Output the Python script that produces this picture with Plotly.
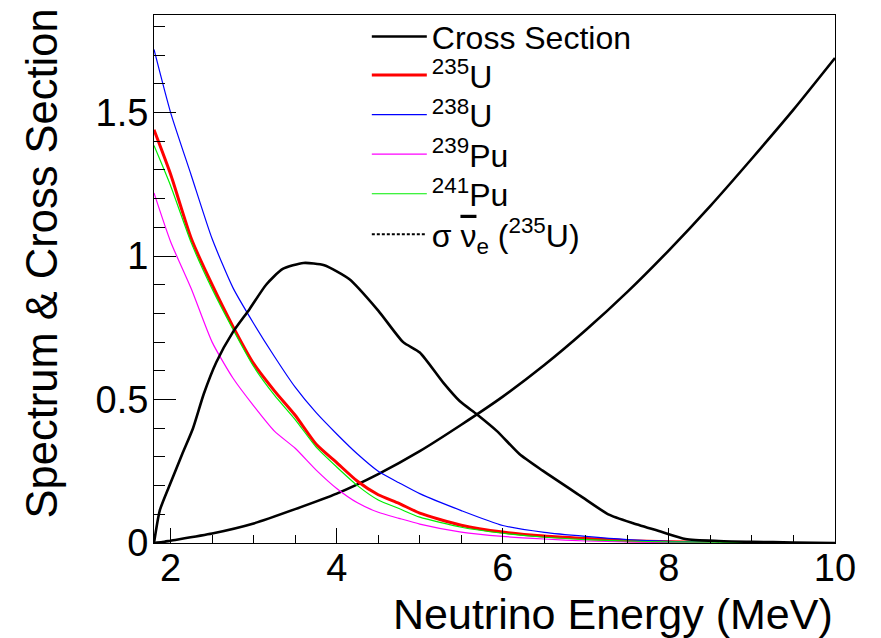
import plotly.graph_objects as go

# ---- data ----
xs_energy = [1.8, 1.9, 2.0, 2.5, 3.0, 3.5, 4.0, 4.5, 5.0, 5.5, 6.0, 6.5, 7.0, 7.5, 8.0, 8.5, 9.0, 9.5, 10.0]
xs_value = [0.0, 0.003, 0.008, 0.033, 0.068, 0.118, 0.172, 0.240, 0.320, 0.412, 0.510, 0.620, 0.742, 0.875, 1.02, 1.175, 1.34, 1.51, 1.69]

sp_energy = [1.8, 2.0, 2.25, 2.5, 2.75, 3.0, 3.25, 3.5, 3.75, 4.0, 4.25, 4.5, 4.75, 5.0, 5.5, 6.0, 6.5, 7.0, 7.5, 8.0, 8.6]
u235 = [1.44, 1.285, 1.06, 0.90, 0.755, 0.625, 0.53, 0.445, 0.345, 0.28, 0.215, 0.168, 0.138, 0.104, 0.062, 0.038, 0.024, 0.016, 0.008, 0.004, 0.002]
u238 = [1.72, 1.50, 1.28, 1.06, 0.89, 0.765, 0.65, 0.543, 0.455, 0.38, 0.31, 0.25, 0.21, 0.172, 0.113, 0.061, 0.037, 0.023, 0.012, 0.006, 0.003]
pu239 = [1.22, 1.05, 0.885, 0.70, 0.575, 0.478, 0.39, 0.33, 0.255, 0.19, 0.14, 0.107, 0.086, 0.066, 0.038, 0.023, 0.014, 0.007, 0.004, 0.002, 0.001]
pu241_energy = [1.8, 2.0, 2.25, 2.5, 2.75, 3.0, 3.25, 3.5, 3.75, 4.0, 4.25, 4.5, 4.75, 5.0, 5.5, 6.0, 6.5, 7.0, 7.5, 8.0, 9.0, 9.5]
pu241 = [1.385, 1.245, 1.045, 0.885, 0.745, 0.615, 0.515, 0.43, 0.335, 0.265, 0.20, 0.15, 0.12, 0.09, 0.055, 0.034, 0.02, 0.012, 0.007, 0.004, 0.002, 0.001]

obs_energy = [1.8, 1.87, 2.0, 2.14, 2.27, 2.4, 2.55, 2.75, 2.95, 3.15, 3.35, 3.6, 3.85, 4.15, 4.5, 4.8, 5.0, 5.28, 5.48, 5.69, 5.93, 6.2, 6.48, 6.93, 7.27, 7.57, 7.9, 8.2, 8.6, 9.0, 9.5, 10.0]
obs_value = [0.0, 0.114, 0.21, 0.31, 0.40, 0.52, 0.63, 0.735, 0.815, 0.90, 0.955, 0.976, 0.968, 0.92, 0.81, 0.70, 0.664, 0.56, 0.495, 0.448, 0.39, 0.31, 0.252, 0.165, 0.10, 0.069, 0.04, 0.014, 0.007, 0.004, 0.002, 0.0]

legend_names = {
    "xs": "Cross Section",
    "u235": "<sup>235</sup>U",
    "u238": "<sup>238</sup>U",
    "pu239": "<sup>239</sup>Pu",
    "pu241": "<sup>241</sup>Pu",
    "obs": "\u03c3 <span style='text-decoration:overline'>\u03bd</span><sub>e</sub> (<sup>235</sup>U)",
}

FONT = "Liberation Sans, Arial, Helvetica, sans-serif"
LEG_FONT = dict(size=32, family=FONT, color="black")

fig = go.Figure()
fig.add_trace(go.Scatter(x=xs_energy, y=xs_value, mode="lines", name=legend_names["xs"],
                         line=dict(color="black", width=2.6, shape="spline", smoothing=0.6),
                         legend="legend"))
fig.add_trace(go.Scatter(x=sp_energy, y=u235, mode="lines", name=legend_names["u235"],
                         line=dict(color="#ff0000", width=3, shape="spline", smoothing=0.6),
                         legend="legend2"))
fig.add_trace(go.Scatter(x=sp_energy, y=u238, mode="lines", name=legend_names["u238"],
                         line=dict(color="#0000ff", width=1.2, shape="spline", smoothing=0.6),
                         legend="legend3"))
fig.add_trace(go.Scatter(x=sp_energy, y=pu239, mode="lines", name=legend_names["pu239"],
                         line=dict(color="#ff00ff", width=1.2, shape="spline", smoothing=0.6),
                         legend="legend4"))
fig.add_trace(go.Scatter(x=pu241_energy, y=pu241, mode="lines", name=legend_names["pu241"],
                         line=dict(color="#00ee00", width=1.2, shape="spline", smoothing=0.6),
                         legend="legend5"))
fig.add_trace(go.Scatter(x=[None], y=[None], mode="lines", name=legend_names["obs"],
                         line=dict(color="black", width=2, dash="3px,2px"),
                         legend="legend6"))
fig.add_trace(go.Scatter(x=obs_energy, y=obs_value, mode="lines", showlegend=False,
                         line=dict(color="black", width=2.6, shape="spline", smoothing=0.6)))

row_centers_px = [31, 70, 110, 150, 190, 231]
def leg(yc):
    return dict(x=0.3125, y=(543 - yc) / 534, xanchor="left", yanchor="middle",
                bgcolor="rgba(0,0,0,0)", borderwidth=0, font=LEG_FONT, itemwidth=55)

fig.update_layout(
    width=881, height=638,
    margin=dict(l=154, r=46, t=9, b=95),
    paper_bgcolor="white", plot_bgcolor="white",
    font=dict(family=FONT, color="black"),
    legend=leg(row_centers_px[0]),
    legend2=leg(row_centers_px[1]),
    legend3=leg(row_centers_px[2]),
    legend4=leg(row_centers_px[3]),
    legend5=leg(row_centers_px[4]),
    legend6=leg(row_centers_px[5]),
    showlegend=True,
)
fig.update_xaxes(range=[1.8, 10], showgrid=False, zeroline=False,
                 showline=True, linecolor="black", linewidth=1, mirror=True,
                 ticks="inside", ticklen=15, tickcolor="black", tickwidth=1,
                 tick0=2, dtick=2,
                 minor=dict(ticks="inside", ticklen=8, tickcolor="black", dtick=0.5, tick0=2, showgrid=False),
                 tickfont=dict(size=38, family=FONT, color="black"),
                 ticklabelstandoff=-9)
fig.update_yaxes(range=[0, 1.84], showgrid=False, zeroline=False,
                 showline=True, linecolor="black", linewidth=1, mirror=True,
                 ticks="inside", ticklen=22, tickcolor="black", tickwidth=1,
                 tick0=0, dtick=0.5, tickformat="~g",
                 minor=dict(ticks="inside", ticklen=11, tickcolor="black", dtick=0.1, tick0=0, showgrid=False),
                 tickfont=dict(size=38, family=FONT, color="black"),
                 ticklabelstandoff=-3)

fig.add_annotation(text="Neutrino Energy (MeV)", xref="paper", yref="paper",
                   x=1.0, y=-0.135, xanchor="right", yanchor="middle", showarrow=False,
                   font=dict(size=43, family=FONT, color="black"))
fig.add_annotation(text="Spectrum & Cross Section", xref="paper", yref="paper",
                   x=-0.164, y=0.53, xanchor="center", yanchor="middle", showarrow=False,
                   textangle=-90, font=dict(size=43.5, family=FONT, color="black"))

fig.write_html("out.html")
